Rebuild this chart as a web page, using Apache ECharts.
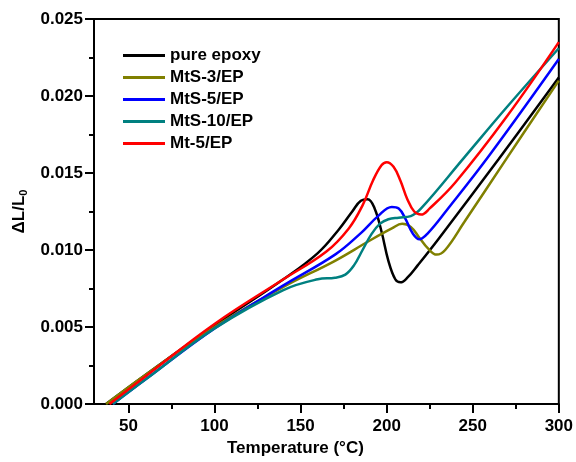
<!DOCTYPE html>
<html>
<head>
<meta charset="utf-8">
<script src="https://cdn.jsdelivr.net/npm/echarts@6/dist/echarts.min.js"></script>
<style>
html,body{margin:0;padding:0;background:#fff;}
#chart{width:576px;height:462px;}
</style>
</head>
<body>
<div id="chart"></div>
<script>
// ---- data ----
var seriesNames = ['pure epoxy', 'MtS-3/EP', 'MtS-5/EP', 'MtS-10/EP', 'Mt-5/EP'];
var seriesColors = ['#000000', '#808000', '#0000ff', '#008080', '#ff0000'];

var tPure = [37, 60, 100, 140, 160, 172, 180, 185, 189, 193, 197, 201, 205, 208, 212, 218, 230, 265, 300];
var vPure = [0, 0.0019, 0.0051, 0.0081, 0.0098, 0.0113, 0.0125, 0.0132, 0.0133, 0.0127, 0.0112, 0.0093, 0.0081, 0.0079, 0.0082, 0.0090, 0.0107, 0.0159, 0.0212];

var tMtS3 = [37, 60, 100, 140, 170, 190, 203, 209, 214, 219, 224, 229, 234, 245, 270, 300];
var vMtS3 = [0, 0.0019, 0.0050, 0.0076, 0.0093, 0.0106, 0.0114, 0.0117, 0.0115, 0.0108, 0.0101, 0.0097, 0.0100, 0.0118, 0.0160, 0.0210];

var tMtS5 = [41, 60, 100, 140, 170, 185, 195, 203, 207, 211, 215, 219, 224, 235, 260, 300];
var vMtS5 = [0, 0.0016, 0.0049, 0.0077, 0.0097, 0.0111, 0.0122, 0.0128, 0.0127, 0.0120, 0.0111, 0.0107, 0.0111, 0.0126, 0.0162, 0.0224];

var tMtS10 = [41, 60, 100, 140, 160, 170, 176, 181, 186, 191, 196, 201, 207, 214, 220, 245, 270, 300];
var vMtS10 = [0, 0.0016, 0.0049, 0.0074, 0.0081, 0.0082, 0.0084, 0.0090, 0.0100, 0.0110, 0.0117, 0.0120, 0.0121, 0.0122, 0.0127, 0.0160, 0.0193, 0.0231];

var tMt5 = [39, 60, 100, 140, 165, 178, 186, 192, 197, 200, 204, 208, 212, 216, 220, 225, 240, 270, 300];
var vMt5 = [0, 0.0018, 0.0052, 0.0081, 0.0099, 0.0114, 0.0129, 0.0145, 0.0155, 0.0157, 0.0154, 0.0145, 0.0133, 0.0125, 0.0123, 0.0127, 0.0144, 0.0187, 0.0235];

var xMajorTicks = [50, 100, 150, 200, 250, 300];
var xMinorTicks = [75, 125, 175, 225, 275];

var allT = [tPure, tMtS3, tMtS5, tMtS10, tMt5];
var allV = [vPure, vMtS3, vMtS5, vMtS10, vMt5];

// ---- chart ----
var FONT = '"Liberation Sans", Arial, sans-serif';
function pairs(t, v) { return t.map(function (x, i) { return [x, v[i]]; }); }

var series = seriesNames.map(function (name, i) {
  return {
    name: name,
    type: 'line',
    data: pairs(allT[i], allV[i]),
    symbol: 'none',
    smooth: 0.4,
    color: seriesColors[i],
    lineStyle: { width: 2.5, color: seriesColors[i] },
    xAxisIndex: 0,
    yAxisIndex: 0
  };
});

var chart = echarts.init(document.getElementById('chart'), null, { renderer: 'canvas' });
chart.setOption({
  animation: false,
  backgroundColor: '#ffffff',
  grid: { left: 94, right: 13, top: 19, bottom: 51, show: true, borderColor: '#000', borderWidth: 2, backgroundColor: 'transparent' },
  legend: {
    data: seriesNames,
    orient: 'vertical',
    left: 118,
    top: 41,
    icon: 'rect',
    itemWidth: 42,
    itemHeight: 3,
    itemGap: 3,
    textStyle: { fontFamily: FONT, fontWeight: 'bold', fontSize: 17, color: '#000', lineHeight: 19 }
  },
  xAxis: [{
    type: 'value',
    min: 30,
    max: 300,
    position: 'bottom',
    name: 'Temperature (°C)',
    nameLocation: 'middle',
    nameGap: 36,
    nameTextStyle: { fontFamily: FONT, fontWeight: 'bold', fontSize: 17, color: '#000', padding: [0, 62, 0, 0] },
    axisLine: { show: true, onZero: false, lineStyle: { color: '#000', width: 2 } },
    axisTick: { show: true, inside: false, length: 9, customValues: xMajorTicks, lineStyle: { color: '#000', width: 2 } },
    axisLabel: { show: true, margin: 14, customValues: xMajorTicks, fontFamily: FONT, fontWeight: 'bold', fontSize: 17, color: '#000' },
    splitLine: { show: false }
  }, {
    type: 'value',
    min: 30,
    max: 300,
    position: 'bottom',
    axisLine: { show: false },
    axisTick: { show: true, inside: false, length: 5, customValues: xMinorTicks, lineStyle: { color: '#000', width: 2 } },
    axisLabel: { show: false },
    splitLine: { show: false }
  }],
  yAxis: {
    type: 'value',
    min: 0,
    max: 0.025,
    interval: 0.005,
    name: '{a|ΔL/L}{b|0}',
    nameLocation: 'middle',
    nameGap: 64,
    nameRotate: 90,
    nameTextStyle: {
      color: '#000',
      rich: {
        a: { fontFamily: FONT, fontWeight: 'bold', fontSize: 17, color: '#000' },
        b: { fontFamily: FONT, fontWeight: 'bold', fontSize: 11, color: '#000', padding: [9, 0, 0, 0] }
      }
    },
    axisLine: { show: true, onZero: false, lineStyle: { color: '#000', width: 2 } },
    axisTick: { show: true, inside: false, length: 9, lineStyle: { color: '#000', width: 2 } },
    minorTick: { show: true, splitNumber: 2, length: 5, lineStyle: { color: '#000', width: 2 } },
    axisLabel: { margin: 11, fontFamily: FONT, fontWeight: 'bold', fontSize: 17, color: '#000',
      formatter: function (v) { return v.toFixed(3); } },
    splitLine: { show: false },
    minorSplitLine: { show: false }
  },
  series: series
});
</script>
</body>
</html>
